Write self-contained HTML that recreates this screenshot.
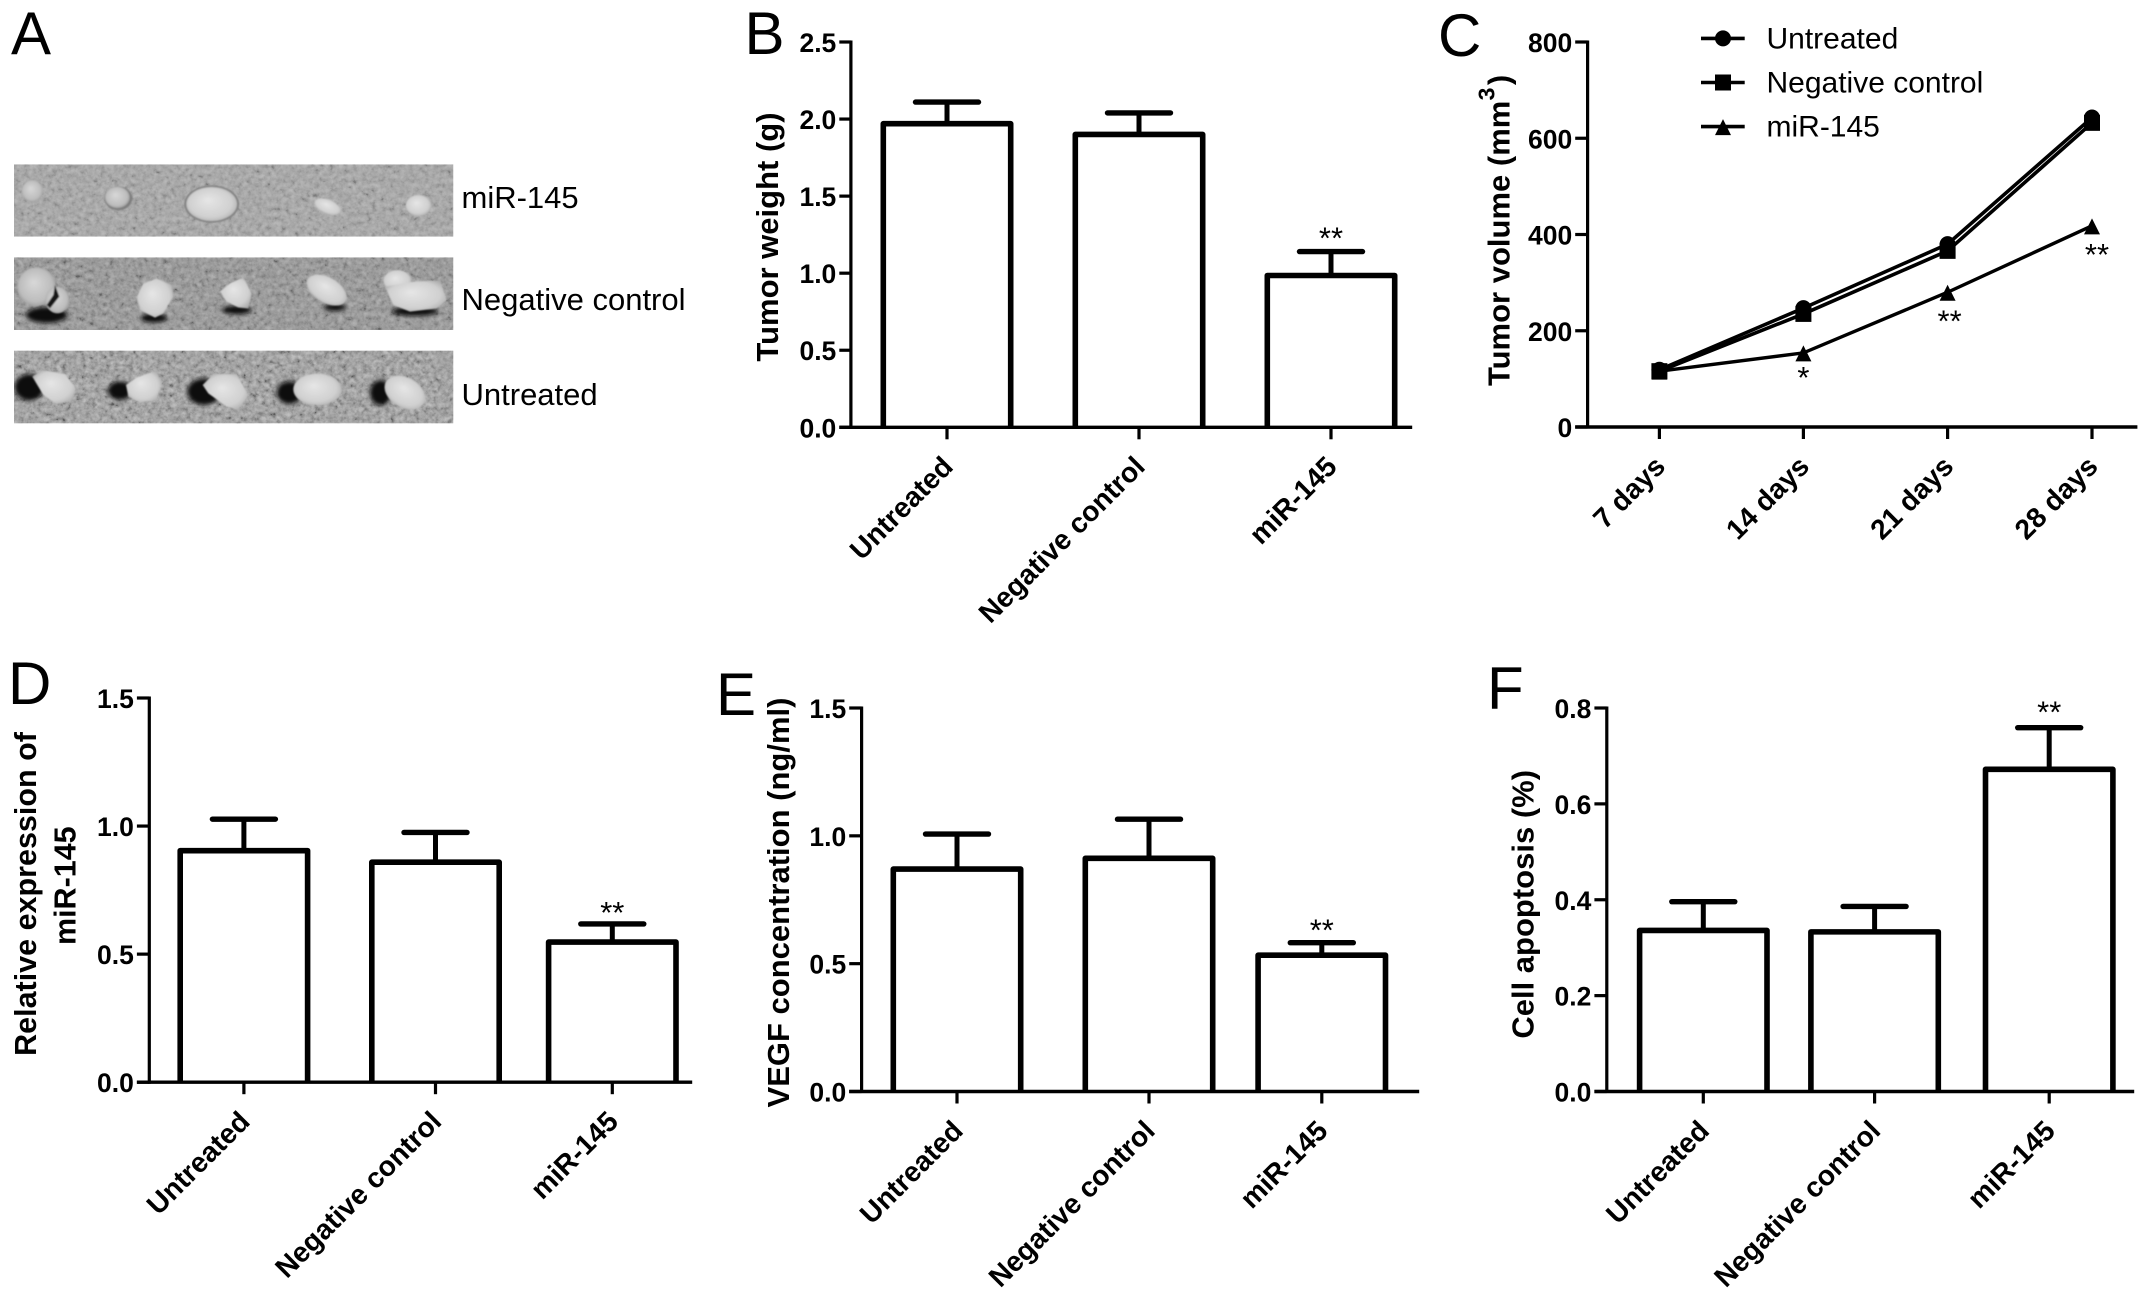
<!DOCTYPE html>
<html lang="en">
<head>
<meta charset="utf-8">
<title>miR-145 tumor figure</title>
<style>
html,body{margin:0;padding:0;background:#fff;}
svg{display:block;}
text{font-family:"Liberation Sans",Arial,sans-serif;fill:#000;}
</style>
</head>
<body>
<svg id="figure" xmlns="http://www.w3.org/2000/svg" width="2150" height="1298" viewBox="0 0 2150 1298">
<defs>
<filter id="grain" x="0" y="0" width="100%" height="100%">
<feTurbulence type="fractalNoise" baseFrequency="0.07" numOctaves="3" seed="4"/>
<feColorMatrix values="0.33 0.33 0.33 0 0 0.33 0.33 0.33 0 0 0.33 0.33 0.33 0 0 0 0 0 0 1"/>
<feComponentTransfer><feFuncR type="linear" slope="2.2" intercept="-0.6"/><feFuncG type="linear" slope="2.2" intercept="-0.6"/><feFuncB type="linear" slope="2.2" intercept="-0.6"/></feComponentTransfer>
</filter>
<filter id="soft" x="-30%" y="-30%" width="160%" height="160%"><feGaussianBlur stdDeviation="6"/></filter>
<filter id="softer" x="-20%" y="-20%" width="140%" height="140%"><feGaussianBlur stdDeviation="2.5"/></filter>
<radialGradient id="blob" cx="50%" cy="50%" r="60%" fx="42%" fy="38%"><stop offset="0" stop-color="#e6e6e6"/><stop offset="0.7" stop-color="#d0d0d0"/><stop offset="1" stop-color="#a8a8a8"/></radialGradient>
<radialGradient id="blobDim" cx="50%" cy="50%" r="60%" fx="42%" fy="38%"><stop offset="0" stop-color="#d8d8d8"/><stop offset="0.7" stop-color="#bdbdbd"/><stop offset="1" stop-color="#8c8c8c"/></radialGradient>
<clipPath id="row1"><rect x="42" y="43" width="1318" height="217"/></clipPath>
<clipPath id="row2"><rect x="42" y="322" width="1318" height="218"/></clipPath>
<clipPath id="row3"><rect x="42" y="602" width="1318" height="218"/></clipPath>
</defs>

<g>
<text x="11" y="54" font-size="60">A</text>
<g transform="translate(0,150) scale(0.33333)">
<g clip-path="url(#row1)">
<rect x="42" y="43" width="1318" height="217" fill="#a3a3a3"/>
<rect x="42" y="43" width="1318" height="217" fill="#888" filter="url(#grain)" opacity="0.24"/>
<g filter="url(#softer)">
<ellipse cx="97" cy="123" rx="32" ry="33" fill="url(#blobDim)"/>
<ellipse cx="355" cy="145" rx="42" ry="36" fill="#7e7e7e"/>
<ellipse cx="352" cy="142" rx="37" ry="32" fill="url(#blobDim)"/>
<ellipse cx="635" cy="162" rx="82" ry="56" fill="#808080"/>
<ellipse cx="635" cy="162" rx="76" ry="51" fill="url(#blob)"/>
<ellipse cx="983" cy="170" rx="42" ry="21" transform="rotate(22 983 170)" fill="url(#blob)"/>
<ellipse cx="1255" cy="166" rx="38" ry="31" fill="url(#blob)"/>
</g>
</g>
<g clip-path="url(#row2)">
<rect x="42" y="322" width="1318" height="218" fill="#8f8f8f"/>
<rect x="42" y="322" width="1318" height="218" fill="#888" filter="url(#grain)" opacity="0.3"/>
<g filter="url(#soft)" fill="#0c0c0c">
<ellipse cx="140" cy="495" rx="62" ry="24"/>
<ellipse cx="462" cy="504" rx="40" ry="14"/>
<ellipse cx="710" cy="480" rx="44" ry="13"/>
<ellipse cx="1005" cy="472" rx="34" ry="11"/>
<ellipse cx="1245" cy="484" rx="70" ry="14"/>
</g>
<g filter="url(#softer)">
<ellipse cx="110" cy="410" rx="58" ry="58" fill="url(#blobDim)"/>
<ellipse cx="172" cy="450" rx="36" ry="40" fill="url(#blobDim)"/>
<path d="M165 405 L178 440 L150 475 L140 465 L160 435 Z" fill="#181818"/>
<path d="M410 440 L430 400 L470 385 L515 405 L520 440 L490 490 L465 503 L420 480 Z" fill="url(#blob)"/>
<path d="M660 425 L690 400 L730 382 L755 430 L745 475 L715 472 L680 455 Z" fill="url(#blob)"/>
<ellipse cx="980" cy="420" rx="66" ry="38" transform="rotate(30 980 420)" fill="url(#blob)"/>
<ellipse cx="1192" cy="392" rx="42" ry="32" fill="url(#blob)"/>
<path d="M1155 410 L1240 395 L1320 390 L1340 450 L1310 475 L1230 485 L1180 465 Z" fill="url(#blob)"/>
</g>
</g>
<g clip-path="url(#row3)">
<rect x="42" y="602" width="1318" height="218" fill="#959595"/>
<rect x="42" y="602" width="1318" height="218" fill="#888" filter="url(#grain)" opacity="0.4"/>
<g filter="url(#soft)" fill="#0a0a0a">
<ellipse cx="88" cy="712" rx="44" ry="40"/>
<ellipse cx="360" cy="722" rx="36" ry="28"/>
<ellipse cx="612" cy="725" rx="50" ry="40"/>
<ellipse cx="868" cy="728" rx="38" ry="34"/>
<ellipse cx="1142" cy="728" rx="32" ry="38"/>
</g>
<g filter="url(#softer)">
<path d="M97 680 L125 660 L195 672 L228 715 L215 750 L170 762 L130 735 Z" fill="url(#blob)"/>
<path d="M378 705 L410 682 L470 662 L484 700 L470 750 L420 758 L385 740 Z" fill="url(#blob)"/>
<path d="M608 705 L640 672 L710 672 L745 735 L715 780 L680 770 L625 730 Z" fill="url(#blob)"/>
<ellipse cx="952" cy="718" rx="72" ry="48" fill="url(#blob)"/>
<ellipse cx="1215" cy="728" rx="66" ry="45" transform="rotate(30 1215 728)" fill="url(#blob)"/>
</g>
</g>
</g>
<text x="461.5" y="208" font-size="31">miR-145</text>
<text x="461.5" y="310" font-size="31">Negative control</text>
<text x="461.5" y="405" font-size="31">Untreated</text>
</g>
</svg>

<script>
// ---- chart data ----
const categories = ['Untreated', 'Negative control', 'miR-145'];
const weightMeans = [1.97, 1.90, 0.985];
const weightErrorTops = [2.11, 2.04, 1.14];
const weightTicks = [0, 0.5, 1.0, 1.5, 2.0, 2.5];
const weightStars = ['', '', '**'];

const expressionMeans = [0.904, 0.859, 0.547];
const expressionErrorTops = [1.027, 0.975, 0.618];
const expressionTicks = [0, 0.5, 1.0, 1.5];
const expressionStars = ['', '', '**'];

const vegfMeans = [0.870, 0.912, 0.533];
const vegfErrorTops = [1.007, 1.065, 0.582];
const vegfTicks = [0, 0.5, 1.0, 1.5];
const vegfStars = ['', '', '**'];

const apoptosisMeans = [0.336, 0.333, 0.672];
const apoptosisErrorTops = [0.396, 0.386, 0.759];
const apoptosisTicks = [0, 0.2, 0.4, 0.6, 0.8];
const apoptosisStars = ['', '', '**'];

const dayLabels = ['7 days', '14 days', '21 days', '28 days'];
const volumeTicks = [0, 200, 400, 600, 800];
const volumeUntreated = [119, 247, 380, 643];
const volumeNegative = [116, 235, 366, 632];
const volumeMir145 = [116, 154, 280, 418];
const volumeStars = ['', '*', '**', '**'];
const seriesNames = ['Untreated', 'Negative control', 'miR-145'];

// ---- panel geometry (axis frames, not data) ----
const frameB = {left: 850.9, right: 1412.2, top: 42, zero: 427.3, tickLeft: 839.3, slots: [947, 1139, 1331], max: 2.5, starLift: 4};
const frameC = {left: 1587.6, right: 2137.4, top: 42, zero: 427, tickLeft: 1575.2, slots: [1659.4, 1803.4, 1947.6, 2092], max: 800, starLift: 0};
const frameD = {left: 149.3, right: 692.2, top: 698, zero: 1082.2, tickLeft: 136.9, slots: [243.9, 435.5, 612.3], max: 1.5, starLift: 2};
const frameE = {left: 861.6, right: 1419.2, top: 708, zero: 1091.5, tickLeft: 849.2, slots: [957, 1149, 1321.8], max: 1.5, starLift: 3};
const frameF = {left: 1606.8, right: 2134.2, top: 708, zero: 1091.5, tickLeft: 1594.4, slots: [1703.3, 1874.6, 2049.2], max: 0.8, starLift: 6};

const SVGNS = 'http://www.w3.org/2000/svg';
const root = document.getElementById('figure');
const BAR_HALF = 63.7;
const CAP_HALF = 31.5;

function slug(s) { return String(s).toLowerCase().replace(/[^a-z0-9]+/g, '-').replace(/^-|-$/g, ''); }

function make(parent, tag, attrs, content) {
  const node = document.createElementNS(SVGNS, tag);
  Object.keys(attrs).forEach(function (k) { node.setAttribute(k, attrs[k]); });
  if (content !== undefined) node.textContent = content;
  parent.appendChild(node);
  return node;
}

function yScale(frame) {
  return function (v) { return frame.zero - (v / frame.max) * (frame.zero - frame.top); };
}

function drawAxes(g, frame, ticks, xLabels, decimals, panelId) {
  const y = yScale(frame);
  const yAxis = make(g, 'line', {x1: frame.left, x2: frame.left, y1: frame.top - 1.5, y2: frame.zero + 1.5, stroke: '#000', 'stroke-width': 3.2});
  
  
  const xAxis = make(g, 'line', {x1: frame.tickLeft, x2: frame.right, y1: frame.zero, y2: frame.zero, stroke: '#000', 'stroke-width': 3.4});
  
  
  ticks.forEach(function (t) {
    const tick = make(g, 'line', {x1: frame.tickLeft, x2: frame.left, y1: y(t), y2: y(t), stroke: '#000', 'stroke-width': 3.2});
    
    
    const lab = make(g, 'text', {x: frame.tickLeft - 3, y: y(t) + 10, 'text-anchor': 'end', 'font-size': 26.5, 'font-weight': 'bold'}, t.toFixed(decimals));
    
    
  });
  xLabels.forEach(function (name, i) {
    const cx = frame.slots[i];
    const tick = make(g, 'line', {x1: cx, x2: cx, y1: frame.zero, y2: frame.zero + 12, stroke: '#000', 'stroke-width': 3.2});
    
    
    const tx = cx + 7.5;
    const ty = frame.zero + 41;
    const lab = make(g, 'text', {x: tx, y: ty, 'text-anchor': 'end', 'font-size': 28.2, 'font-weight': 'bold', transform: 'rotate(-45 ' + tx + ' ' + ty + ')'}, name);
    
    
  });
}

function drawBars(g, frame, means, tops, stars, panelId) {
  const y = yScale(frame);
  means.forEach(function (m, i) {
    const cx = frame.slots[i];
    const stem = make(g, 'line', {x1: cx, x2: cx, y1: y(m), y2: y(tops[i]), stroke: '#000', 'stroke-width': 5});
    
    
    const cap = make(g, 'line', {x1: cx - CAP_HALF, x2: cx + CAP_HALF, y1: y(tops[i]), y2: y(tops[i]), stroke: '#000', 'stroke-width': 5.4, 'stroke-linecap': 'round'});
    
    
    const bar = make(g, 'path', {d: 'M' + (cx - BAR_HALF) + ' ' + frame.zero + 'V' + y(m) + 'H' + (cx + BAR_HALF) + 'V' + frame.zero, fill: '#fff', stroke: '#000', 'stroke-width': 5.6, 'stroke-linejoin': 'round'});
    
    
    if (stars[i]) {
      const star = make(g, 'text', {x: cx, y: y(tops[i]) + 1 - frame.starLift, 'text-anchor': 'middle', 'font-size': 31}, stars[i]);
      
      
    }
  });
}

function marker(g, kind, x, y) {
  if (kind === 0) return make(g, 'circle', {cx: x, cy: y, r: 8, fill: '#000'});
  if (kind === 1) return make(g, 'rect', {x: x - 8, y: y - 8, width: 16, height: 16, fill: '#000'});
  return make(g, 'polygon', {points: (x - 8) + ',' + (y + 8.5) + ' ' + (x + 8) + ',' + (y + 8.5) + ' ' + x + ',' + (y - 7.5), fill: '#000'});
}

function title(g, text, baselineX, centreY, size, name) {
  const t = make(g, 'text', {x: baselineX, y: centreY, 'text-anchor': 'middle', 'font-size': size, 'font-weight': 'bold', transform: 'rotate(-90 ' + baselineX + ' ' + centreY + ')'}, text);
  
  
  return t;
}

function letter(g, text, x, y, name) {
  const t = make(g, 'text', {x: x, y: y, 'font-size': 60}, text);
  
  
}

// Panel B
const panelB = make(root, 'g', {});


letter(panelB, 'B', 744.5, 54, 'panel-letter-b');
drawBars(panelB, frameB, weightMeans, weightErrorTops, weightStars, 'weight');
drawAxes(panelB, frameB, weightTicks, categories, 1, 'weight');
title(panelB, 'Tumor weight (g)', 777.8, 237, 31, 'weight-y-axis-title');

// Panel D
const panelD = make(root, 'g', {});


letter(panelD, 'D', 8, 704, 'panel-letter-d');
drawBars(panelD, frameD, expressionMeans, expressionErrorTops, expressionStars, 'expression');
drawAxes(panelD, frameD, expressionTicks, categories, 1, 'expression');
title(panelD, 'Relative expression of', 36, 894, 30.5, 'expression-y-axis-title-line-1');
title(panelD, 'miR-145', 75.3, 885.7, 30.5, 'expression-y-axis-title-line-2');

// Panel E
const panelE = make(root, 'g', {});


letter(panelE, 'E', 716, 715, 'panel-letter-e');
drawBars(panelE, frameE, vegfMeans, vegfErrorTops, vegfStars, 'vegf');
drawAxes(panelE, frameE, vegfTicks, categories, 1, 'vegf');
title(panelE, 'VEGF concentration (ng/ml)', 789, 902.5, 31, 'vegf-y-axis-title');

// Panel F
const panelF = make(root, 'g', {});


letter(panelF, 'F', 1487, 709, 'panel-letter-f');
drawBars(panelF, frameF, apoptosisMeans, apoptosisErrorTops, apoptosisStars, 'apoptosis');
drawAxes(panelF, frameF, apoptosisTicks, categories, 1, 'apoptosis');
title(panelF, 'Cell apoptosis (%)', 1533.5, 904.3, 31, 'apoptosis-y-axis-title');

// Panel C
const panelC = make(root, 'g', {});


letter(panelC, 'C', 1438, 56, 'panel-letter-c');
drawAxes(panelC, frameC, volumeTicks, dayLabels, 0, 'volume');
const volumeY = yScale(frameC);
[volumeUntreated, volumeNegative, volumeMir145].forEach(function (series, s) {
  const pts = series.map(function (v, i) { return frameC.slots[i] + ',' + volumeY(v); }).join(' ');
  const line = make(panelC, 'polyline', {points: pts, fill: 'none', stroke: '#000', 'stroke-width': s === 2 ? 3.4 : 3.6});
  
  
  series.forEach(function (v, i) {
    const m = marker(panelC, s, frameC.slots[i], volumeY(v));
    
    
  });
});
volumeStars.forEach(function (st, i) {
  if (!st) return;
  const star = make(panelC, 'text', {x: frameC.slots[i] + (i === 1 ? 0 : i === 2 ? 2 : 5), y: volumeY(volumeMir145[i]) + (i === 1 ? 35 : 39), 'text-anchor': 'middle', 'font-size': 31}, st);
  
  
});
const volTitle = make(panelC, 'text', {x: 1509.4, y: 386, 'font-size': 31, 'font-weight': 'bold', transform: 'rotate(-90 1509.4 386)'}, 'Tumor volume (mm');


const volSup = make(panelC, 'text', {x: 1494.3, y: 94, 'text-anchor': 'middle', 'font-size': 23, 'font-weight': 'bold', transform: 'rotate(-90 1494.3 94)'}, '3');


const volClose = make(panelC, 'text', {x: 1509.4, y: 80, 'text-anchor': 'middle', 'font-size': 31, 'font-weight': 'bold', transform: 'rotate(-90 1509.4 80)'}, ')');



// Legend for panel C
const legend = make(panelC, 'g', {});


seriesNames.forEach(function (name, s) {
  const ly = 38.4 + s * 44.1;
  const entry = make(legend, 'g', {});
  
  
  make(entry, 'line', {x1: 1701, x2: 1744.7, y1: ly, y2: ly, stroke: '#000', 'stroke-width': 3.6});
  marker(entry, s, 1723, ly);
  make(entry, 'text', {x: 1766.5, y: ly + 10, 'font-size': 30}, name);
});
</script>
</body>
</html>
